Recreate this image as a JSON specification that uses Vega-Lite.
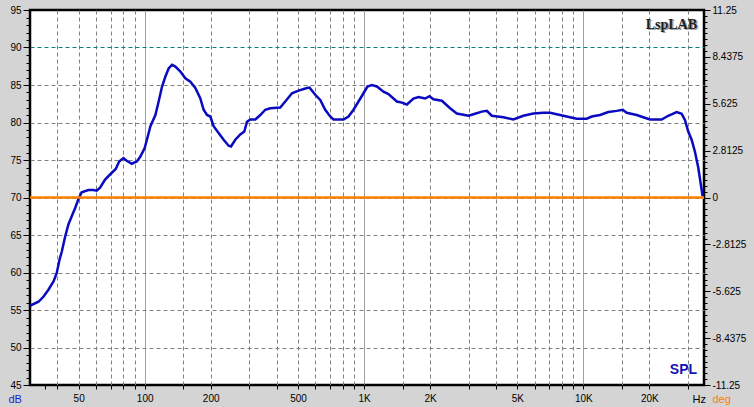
{
  "$schema": "https://vega.github.io/schema/vega-lite/v6.json",
  "width": 674,
  "height": 375,
  "autosize": {"type": "none"},
  "padding": {"left": 30, "top": 10, "right": 50, "bottom": 22},
  "background": "#d4d4d4",
  "config": {
    "view": {"stroke": "black", "strokeWidth": 2.5, "fill": "white"},
    "font": "Liberation Sans",
    "axis": {
      "labelFont": "Liberation Sans",
      "labelFontSize": 10,
      "labelColor": "black",
      "tickColor": "black",
      "domain": false,
      "labelOverlap": false,
      "labelFlush": false,
      "titleFont": "Liberation Sans",
      "titleFontSize": 11,
      "titleFontWeight": "normal",
      "titleAngle": 0,
      "titleAlign": "left",
      "titleBaseline": "alphabetic"
    }
  },
  "datasets": {
    "spl": [
      {"f": 30.1, "spl": 55.6}, {"f": 32.8, "spl": 56.1}, {"f": 34.6, "spl": 56.8}, {"f": 36.4, "spl": 57.7},
      {"f": 38.4, "spl": 58.8}, {"f": 39.7, "spl": 59.9}, {"f": 40.9, "spl": 61.7}, {"f": 41.9, "spl": 62.8},
      {"f": 43.4, "spl": 64.8}, {"f": 44.9, "spl": 66.4}, {"f": 46.5, "spl": 67.5}, {"f": 48.2, "spl": 68.6},
      {"f": 49.9, "spl": 69.8}, {"f": 51.6, "spl": 70.7}, {"f": 55.4, "spl": 71.0}, {"f": 58.4, "spl": 71.0},
      {"f": 60.4, "spl": 70.9}, {"f": 62.6, "spl": 71.3}, {"f": 66.0, "spl": 72.4}, {"f": 70.8, "spl": 73.3},
      {"f": 73.8, "spl": 73.8}, {"f": 76.5, "spl": 74.8}, {"f": 80.0, "spl": 75.25}, {"f": 82.8, "spl": 74.9},
      {"f": 87.3, "spl": 74.5}, {"f": 92.0, "spl": 74.8}, {"f": 95.3, "spl": 75.4}, {"f": 100, "spl": 76.6},
      {"f": 103, "spl": 78.0}, {"f": 106.2, "spl": 79.5}, {"f": 111.9, "spl": 81.0}, {"f": 115.8, "spl": 82.8},
      {"f": 120, "spl": 84.8}, {"f": 124.2, "spl": 86.1}, {"f": 128.6, "spl": 87.2}, {"f": 133.3, "spl": 87.7},
      {"f": 138, "spl": 87.45}, {"f": 145.5, "spl": 86.8}, {"f": 153.3, "spl": 85.9}, {"f": 161.5, "spl": 85.45},
      {"f": 170.2, "spl": 84.6}, {"f": 179.4, "spl": 83.2}, {"f": 185.7, "spl": 81.7}, {"f": 192.4, "spl": 81.0},
      {"f": 199.2, "spl": 80.8}, {"f": 206.2, "spl": 79.5}, {"f": 217.3, "spl": 78.6}, {"f": 229.1, "spl": 77.7},
      {"f": 241.4, "spl": 76.9}, {"f": 247.5, "spl": 76.8}, {"f": 258.9, "spl": 77.7}, {"f": 272.9, "spl": 78.4},
      {"f": 284.6, "spl": 78.8}, {"f": 292.8, "spl": 80.1}, {"f": 303.1, "spl": 80.4}, {"f": 319.4, "spl": 80.4},
      {"f": 336.6, "spl": 81.0}, {"f": 354.7, "spl": 81.7}, {"f": 373.8, "spl": 81.9}, {"f": 415, "spl": 82.0},
      {"f": 437.5, "spl": 82.8}, {"f": 469.5, "spl": 83.9}, {"f": 503, "spl": 84.25}, {"f": 549.5, "spl": 84.6},
      {"f": 564.6, "spl": 84.65}, {"f": 599.5, "spl": 83.7}, {"f": 631.7, "spl": 83.0}, {"f": 665.6, "spl": 81.7},
      {"f": 701.5, "spl": 80.8}, {"f": 726.1, "spl": 80.4}, {"f": 806.5, "spl": 80.4}, {"f": 849.9, "spl": 80.8},
      {"f": 895.7, "spl": 81.7}, {"f": 943.9, "spl": 82.8}, {"f": 994.7, "spl": 83.9}, {"f": 1037, "spl": 84.8},
      {"f": 1087, "spl": 85.0}, {"f": 1145, "spl": 84.8}, {"f": 1227, "spl": 84.1}, {"f": 1293, "spl": 83.8},
      {"f": 1412, "spl": 82.8}, {"f": 1488, "spl": 82.65}, {"f": 1569, "spl": 82.4}, {"f": 1681, "spl": 83.2},
      {"f": 1772, "spl": 83.4}, {"f": 1901, "spl": 83.2}, {"f": 1988, "spl": 83.5}, {"f": 2073, "spl": 83.1},
      {"f": 2264, "spl": 82.9}, {"f": 2470, "spl": 81.9}, {"f": 2650, "spl": 81.2}, {"f": 2994, "spl": 80.9},
      {"f": 3154, "spl": 81.1}, {"f": 3444, "spl": 81.45}, {"f": 3630, "spl": 81.55}, {"f": 3826, "spl": 80.9},
      {"f": 4320, "spl": 80.7}, {"f": 4798, "spl": 80.4}, {"f": 5329, "spl": 80.9}, {"f": 5920, "spl": 81.2},
      {"f": 6575, "spl": 81.3}, {"f": 7051, "spl": 81.3}, {"f": 7831, "spl": 81.0}, {"f": 8698, "spl": 80.7},
      {"f": 9330, "spl": 80.5}, {"f": 10360, "spl": 80.5}, {"f": 10920, "spl": 80.8}, {"f": 11920, "spl": 81.0},
      {"f": 13000, "spl": 81.4}, {"f": 14200, "spl": 81.55}, {"f": 15120, "spl": 81.7}, {"f": 15770, "spl": 81.3},
      {"f": 17510, "spl": 81.0}, {"f": 18770, "spl": 80.7}, {"f": 20140, "spl": 80.4}, {"f": 22760, "spl": 80.4},
      {"f": 24390, "spl": 80.9}, {"f": 26640, "spl": 81.4}, {"f": 28080, "spl": 81.15}, {"f": 29060, "spl": 80.35},
      {"f": 30090, "spl": 78.8}, {"f": 31180, "spl": 77.7}, {"f": 32280, "spl": 76.1}, {"f": 33420, "spl": 74.0},
      {"f": 34270, "spl": 71.9}, {"f": 34990, "spl": 70.15}
    ],
    "phase": [{"f": 30, "deg": 0}, {"f": 35500, "deg": 0}]
  },
  "layer": [
    {
      "data": {"name": "spl"},
      "mark": {"type": "line", "color": "#0a0ac0", "strokeWidth": 2.5, "clip": true},
      "encoding": {
        "x": {
          "field": "f",
          "type": "quantitative",
          "scale": {"type": "log", "domain": [30, 35500], "nice": false},
          "axis": {
            "values": [35, 40, 50, 60, 70, 80, 90, 100, 150, 200, 300, 400, 500, 600, 700, 800, 900, 1000, 1500, 2000, 3000, 4000, 5000, 6000, 7000, 8000, 9000, 10000, 15000, 20000, 30000],
            "labelExpr": "indexof([50,100,200,500], datum.value) >= 0 ? ('' + datum.value) : (indexof([1000,2000,5000,10000,20000], datum.value) >= 0 ? ((datum.value/1000) + 'K') : '')",
            "labelOverlap": false,
            "labelFlush": false,
            "tickSize": 4,
            "labelPadding": 4,
            "grid": true,
            "gridColor": "#808080",
            "gridWidth": 1,
            "gridDash": {"condition": {"test": "datum.value == 100 || datum.value == 1000 || datum.value == 10000", "value": [1, 0]}, "value": [4, 3]},
            "gridOpacity": {"condition": {"test": "datum.value == 35", "value": 0}, "value": 1},
            "title": "Hz",
            "titleColor": "black",
            "titleX": 662,
            "titleY": 17
          }
        },
        "y": {
          "field": "spl",
          "type": "quantitative",
          "scale": {"domain": [45, 95], "nice": false, "zero": false},
          "axis": {
            "values": [45,46,47,48,49,50,51,52,53,54,55,56,57,58,59,60,61,62,63,64,65,66,67,68,69,70,71,72,73,74,75,76,77,78,79,80,81,82,83,84,85,86,87,88,89,90,91,92,93,94,95],
            "labelExpr": "datum.value % 5 == 0 ? ('' + datum.value) : ''",
            "labelOverlap": false,
            "tickSize": {"condition": {"test": "datum.value % 5 == 0", "value": 7}, "value": 4},
            "labelPadding": 2,
            "grid": true,
            "gridDash": [4, 3],
            "gridColor": {"condition": {"test": "datum.value == 90", "value": "#008080"}, "value": "#808080"},
            "gridOpacity": {"condition": {"test": "datum.value % 5 == 0 && datum.value != 45 && datum.value != 95", "value": 1}, "value": 0},
            "title": "dB",
            "titleColor": "#1a1ad0",
            "titleX": -22,
            "titleY": 392
          }
        }
      }
    },
    {
      "data": {"name": "phase"},
      "mark": {"type": "line", "color": "#ff8000", "strokeWidth": 2.5},
      "encoding": {
        "x": {"field": "f", "type": "quantitative", "scale": {"type": "log", "domain": [30, 35500], "nice": false}},
        "y": {
          "field": "deg",
          "type": "quantitative",
          "scale": {"domain": [-11.25, 11.25], "nice": false, "zero": false},
          "axis": {
            "orient": "right",
            "values": [-11.25,-10.8984375,-10.546875,-10.1953125,-9.84375,-9.4921875,-9.140625,-8.7890625,-8.4375,-8.0859375,-7.734375,-7.3828125,-7.03125,-6.6796875,-6.328125,-5.9765625,-5.625,-5.2734375,-4.921875,-4.5703125,-4.21875,-3.8671875,-3.515625,-3.1640625,-2.8125,-2.4609375,-2.109375,-1.7578125,-1.40625,-1.0546875,-0.703125,-0.3515625,0,0.3515625,0.703125,1.0546875,1.40625,1.7578125,2.109375,2.4609375,2.8125,3.1640625,3.515625,3.8671875,4.21875,4.5703125,4.921875,5.2734375,5.625,5.9765625,6.328125,6.6796875,7.03125,7.3828125,7.734375,8.0859375,8.4375,8.7890625,9.140625,9.4921875,9.84375,10.1953125,10.546875,10.8984375,11.25],
            "labelExpr": "datum.value % 2.8125 == 0 ? ('' + datum.value) : ''",
            "labelOverlap": false,
            "tickSize": {"condition": {"test": "datum.value % 2.8125 == 0", "value": 6}, "value": 3},
            "labelPadding": 2,
            "grid": false,
            "title": "deg",
            "titleColor": "#ff8000",
            "titleX": 8,
            "titleY": 392
          }
        }
      }
    },
    {
      "data": {"values": [{"label": "LspLAB"}]},
      "mark": {"type": "text", "font": "Liberation Serif", "fontWeight": "bold", "fontSize": 14, "align": "right", "baseline": "alphabetic", "color": "#a0a0a0", "dx": 1.5, "dy": 1.5},
      "encoding": {
        "x": {"datum": 33000, "type": "quantitative"},
        "y": {"datum": 92.5, "type": "quantitative", "scale": {"domain": [45, 95], "nice": false, "zero": false}, "axis": null},
        "text": {"field": "label"}
      }
    },
    {
      "data": {"values": [{"label": "LspLAB"}]},
      "mark": {"type": "text", "font": "Liberation Serif", "fontWeight": "bold", "fontSize": 14, "align": "right", "baseline": "alphabetic", "color": "#202020"},
      "encoding": {
        "x": {"datum": 33000, "type": "quantitative"},
        "y": {"datum": 92.5, "type": "quantitative", "scale": {"domain": [45, 95], "nice": false, "zero": false}, "axis": null},
        "text": {"field": "label"}
      }
    },
    {
      "data": {"values": [{"label": "SPL"}]},
      "mark": {"type": "text", "font": "Liberation Sans", "fontSize": 14, "fontWeight": "bold", "align": "right", "baseline": "alphabetic", "color": "#1414b4"},
      "encoding": {
        "x": {"datum": 33000, "type": "quantitative"},
        "y": {"datum": 46.5, "type": "quantitative", "scale": {"domain": [45, 95], "nice": false, "zero": false}, "axis": null},
        "text": {"field": "label"}
      }
    }
  ],
  "resolve": {"scale": {"y": "independent"}, "axis": {"y": "independent"}}
}
